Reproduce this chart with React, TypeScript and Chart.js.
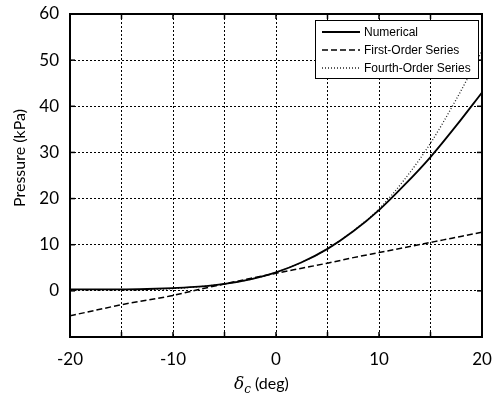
import React, { useEffect, useRef } from 'react';
import { Chart, registerables } from 'chart.js';

Chart.register(...registerables);

const angles = [-20, -17.5, -15, -12.5, -10, -7.5, -5, -2.5, 0, 2.5, 5, 7.5, 10, 12.5, 15, 17.5, 20];
const numerical = [0.3, 0.3, 0.3, 0.4, 0.6, 0.9, 1.5, 2.5, 4.0, 6.2, 9.1, 12.9, 17.5, 23.0, 29.0, 35.8, 43.0];
const firstOrder = [-5.4, -4.2, -3.0, -2.0, -1.0, 0.3, 1.5, 2.7, 3.8, 4.9, 6.0, 7.2, 8.3, 9.4, 10.5, 11.6, 12.7];
const fourthOrder = [0.2, 0.2, 0.2, 0.3, 0.5, 0.9, 1.5, 2.5, 4.0, 6.2, 9.1, 13.0, 17.8, 24.2, 32.0, 41.5, 52.0];

const seriesNames = ['Numerical', 'First-Order Series', 'Fourth-Order Series'];
const xTickLabels = [-20, -10, 0, 10, 20];
const yTickLabels = [0, 10, 20, 30, 40, 50, 60];
const yTitle = 'Pressure (kPa)';
const xTitleSymbol = 'δ';
const xTitleSub = 'c';
const xTitleUnit = ' (deg)';

const TICK_FONT = 'Lato, "Noto Sans", sans-serif';

const framePlugin = {
  id: 'frame',
  afterDraw(chart: any) {
    const { ctx, chartArea: a, scales } = chart;
    const xs = scales.x;
    const ys = scales.y;
    ctx.save();
    ctx.setLineDash([]);
    ctx.strokeStyle = '#000';
    ctx.lineWidth = 1.5;
    const seg = (x1: number, y1: number, x2: number, y2: number) => {
      ctx.beginPath();
      ctx.moveTo(x1, y1);
      ctx.lineTo(x2, y2);
      ctx.stroke();
    };
    xs.ticks.forEach((t: any) => {
      const px = xs.getPixelForValue(t.value);
      seg(px, a.bottom, px, a.bottom - 5);
      seg(px, a.top, px, a.top + 5);
    });
    ys.ticks.forEach((t: any) => {
      const py = ys.getPixelForValue(t.value);
      seg(a.left, py, a.left + 5, py);
      seg(a.right, py, a.right - 5, py);
    });
    ctx.lineWidth = 2;
    ctx.strokeRect(a.left, a.top, a.right - a.left, a.bottom - a.top);

    // legend
    const lx = 315, ly = 20, lw = 163, lh = 58;
    ctx.fillStyle = '#fff';
    ctx.fillRect(lx, ly, lw, lh);
    ctx.lineWidth = 1;
    ctx.strokeRect(lx + 0.5, ly + 0.5, lw, lh);
    ctx.font = '12px "Liberation Sans", Arial, sans-serif';
    ctx.textBaseline = 'middle';
    ctx.textAlign = 'left';
    chart.data.datasets.forEach((ds: any, i: number) => {
      const yy = ly + 12 + i * 18;
      ctx.save();
      ctx.strokeStyle = ds.borderColor;
      ctx.lineWidth = ds.borderWidth;
      ctx.setLineDash(ds.borderDash || []);
      seg(322, yy, 360, yy);
      ctx.restore();
      ctx.fillStyle = '#000';
      ctx.fillText(ds.label, 364, yy + 1);
    });

    // y title
    ctx.save();
    ctx.translate(20, 158);
    ctx.rotate(-Math.PI / 2);
    ctx.font = '16px ' + TICK_FONT;
    ctx.fillStyle = '#000';
    ctx.textAlign = 'center';
    ctx.textBaseline = 'middle';
    ctx.fillText(yTitle, 0, 0);
    ctx.restore();

    // x title
    ctx.fillStyle = '#000';
    ctx.textBaseline = 'alphabetic';
    ctx.textAlign = 'left';
    let cx = 234;
    const base = 389;
    ctx.font = 'italic 17px "DejaVu Serif", serif';
    ctx.fillText(xTitleSymbol, cx, base);
    cx += ctx.measureText(xTitleSymbol).width;
    ctx.font = 'italic 12px "DejaVu Serif", serif';
    ctx.fillText(xTitleSub, cx, base + 4);
    cx += ctx.measureText(xTitleSub).width;
    ctx.font = '16px ' + TICK_FONT;
    ctx.fillText(xTitleUnit, cx, base);
    ctx.restore();
  },
};

export default function App() {
  const ref = useRef<HTMLCanvasElement>(null);
  useEffect(() => {
    document.body.style.margin = '0';
    const mk = (vals: number[]) => angles.map((a, i) => ({ x: a, y: vals[i] }));
    const chart = new Chart(ref.current as HTMLCanvasElement, {
      type: 'line',
      data: {
        datasets: [
          {
            label: seriesNames[0],
            data: mk(numerical),
            borderColor: '#000',
            borderWidth: 1.8,
            pointRadius: 0,
            cubicInterpolationMode: 'monotone',
          },
          {
            label: seriesNames[1],
            data: mk(firstOrder),
            borderColor: '#000',
            borderWidth: 1.5,
            borderDash: [6, 3],
            pointRadius: 0,
            cubicInterpolationMode: 'monotone',
          },
          {
            label: seriesNames[2],
            data: mk(fourthOrder),
            borderColor: '#222',
            borderWidth: 1.3,
            borderDash: [1, 2],
            pointRadius: 0,
            cubicInterpolationMode: 'monotone',
          },
        ],
      },
      options: {
        responsive: false,
        animation: false,
        layout: { padding: { top: 14, right: 10, left: 0, bottom: 0 } },
        plugins: { legend: { display: false }, tooltip: { enabled: false } },
        scales: {
          x: {
            type: 'linear',
            min: -20,
            max: 20,
            afterFit: (s: any) => {
              s.height = 61;
              s.paddingLeft = 0;
              s.paddingRight = 0;
              s.paddingTop = 0;
              s.paddingBottom = 0;
            },
            ticks: {
              stepSize: 5,
              autoSkip: false,
              maxRotation: 0,
              padding: 12,
              color: '#000',
              font: { family: TICK_FONT, size: 17 },
              callback: (v: any) => (xTickLabels.includes(Number(v)) ? String(v) : ''),
            },
            grid: { color: '#000', lineWidth: 1, drawTicks: false },
            border: { display: false, dash: [2, 2] },
          },
          y: {
            type: 'linear',
            min: -10,
            max: 60,
            afterFit: (s: any) => {
              s.width = 70;
              s.paddingLeft = 0;
              s.paddingRight = 0;
              s.paddingTop = 0;
              s.paddingBottom = 0;
            },
            ticks: {
              stepSize: 10,
              autoSkip: false,
              padding: 11,
              color: '#000',
              font: { family: TICK_FONT, size: 17 },
              callback: (v: any) => (yTickLabels.includes(Number(v)) ? String(v) : ''),
            },
            grid: { color: '#000', lineWidth: 1, drawTicks: false },
            border: { display: false, dash: [2, 2] },
          },
        },
      },
      plugins: [framePlugin],
    } as any);
    return () => chart.destroy();
  }, []);
  return (
    <div style={{ width: 492, height: 398, background: '#fff' }}>
      <canvas ref={ref} width={492} height={398} />
    </div>
  );
}
